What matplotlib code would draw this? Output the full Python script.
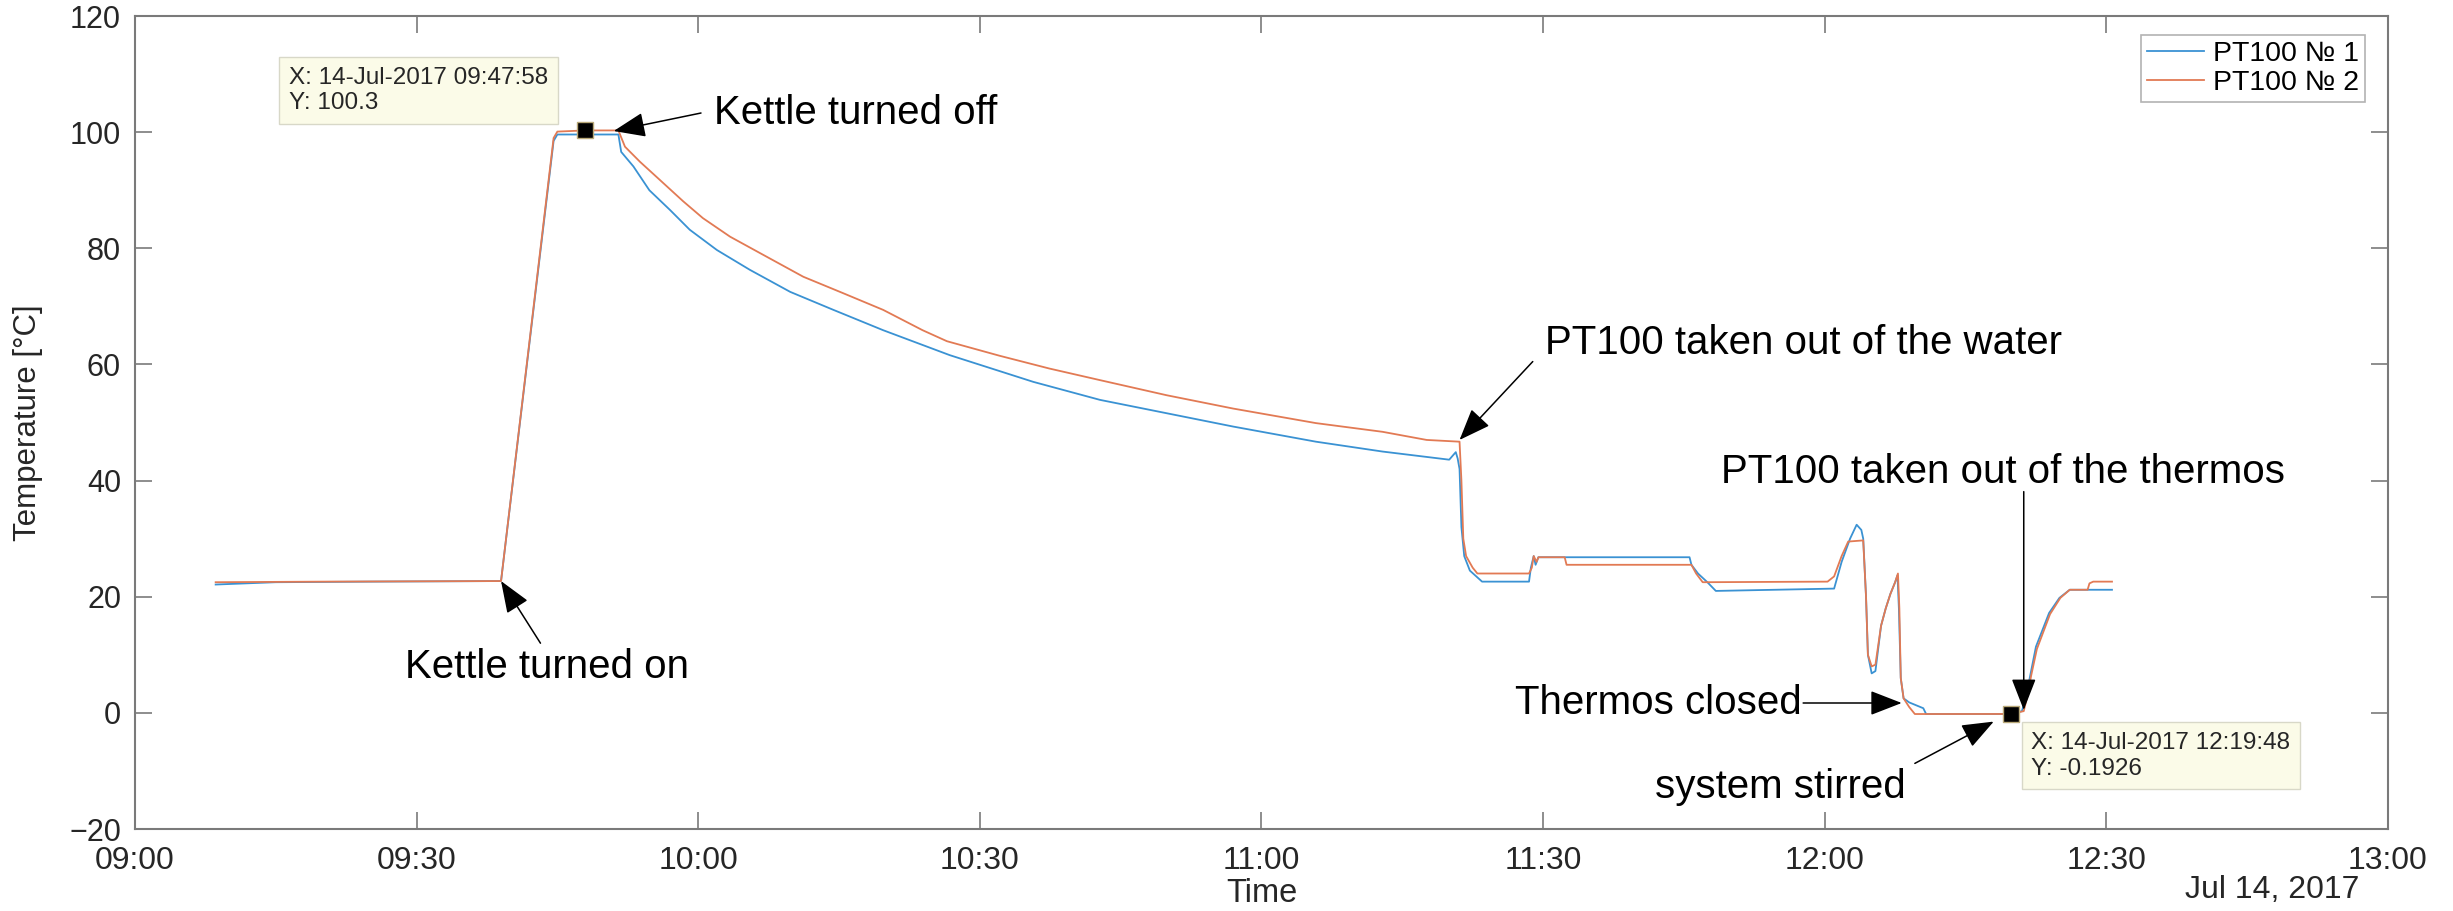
import matplotlib.pyplot as plt
import matplotlib.dates as mdates
import pandas as pd

plt.rcParams['font.family'] = ['Liberation Sans', 'DejaVu Sans']

# -----------------------------
# DATA
# -----------------------------
day = "2017-07-14 "

t1 = ["09:08:36", "09:15:00", "09:25:00", "09:39:00", "09:44:36", "09:45:00", "09:51:30",
      "09:51:48", "09:53:06", "09:54:48", "09:57:00", "09:59:06", "10:02:00", "10:05:30",
      "10:09:48", "10:14:24", "10:19:42", "10:26:48", "10:35:42", "10:42:48", "10:49:54",
      "10:57:00", "11:05:48", "11:12:54", "11:20:00", "11:20:42", "11:20:54", "11:21:06",
      "11:21:18", "11:21:36", "11:22:12", "11:23:30", "11:28:30", "11:28:42", "11:29:00",
      "11:29:12", "11:29:30", "11:45:36", "11:45:48", "11:46:30", "11:47:30", "11:48:24",
      "12:01:00", "12:01:48", "12:02:42", "12:03:24", "12:03:54", "12:04:06", "12:04:24",
      "12:04:36", "12:05:00", "12:05:24", "12:06:00", "12:06:30", "12:07:00", "12:07:30",
      "12:07:45", "12:07:54", "12:08:06", "12:08:24", "12:09:00", "12:10:30", "12:10:48",
      "12:19:48", "12:21:00", "12:21:30", "12:21:48", "12:22:30", "12:23:12", "12:23:54",
      "12:25:00", "12:26:06", "12:30:36"]
v1 = [22.1, 22.5, 22.6, 22.7, 98.5, 99.6, 99.6,
      96.6, 94.1, 90.0, 86.6, 83.2, 79.7, 76.3,
      72.5, 69.4, 65.9, 61.6, 57.0, 53.9, 51.6,
      49.3, 46.7, 45.0, 43.6, 44.9, 43.8, 42.0,
      32.0, 27.0, 24.5, 22.6, 22.6, 25.0, 27.0,
      25.5, 26.8, 26.8, 25.5, 24.0, 22.5, 21.0,
      21.4, 26.0, 30.0, 32.4, 31.5, 30.0, 20.0,
      10.0, 6.8, 7.2, 15.0, 18.0, 20.5, 22.5,
      23.7, 18.0, 6.0, 2.5, 1.8, 0.8, -0.2,
      -0.2, 0.3, 3.0, 5.7, 11.4, 14.3, 17.2,
      19.8, 21.2, 21.2]

t2 = ["09:08:36", "09:20:00", "09:39:00", "09:44:36", "09:45:00", "09:47:58", "09:51:30",
      "09:52:12", "09:53:48", "09:55:54", "09:58:24", "10:00:30", "10:03:24", "10:06:54",
      "10:11:12", "10:15:24", "10:19:42", "10:23:54", "10:26:30", "10:32:06", "10:37:24",
      "10:42:48", "10:49:54", "10:57:00", "11:05:48", "11:12:54", "11:17:36", "11:21:06",
      "11:21:18", "11:21:30", "11:21:48", "11:22:30", "11:23:00", "11:28:30", "11:28:48",
      "11:29:00", "11:29:18", "11:29:30", "11:32:18", "11:32:30", "11:45:48", "11:46:18",
      "11:47:00", "12:00:18", "12:01:00", "12:01:48", "12:02:30", "12:04:06", "12:04:24",
      "12:04:36", "12:05:00", "12:05:24", "12:06:00", "12:06:30", "12:07:00", "12:07:30",
      "12:07:48", "12:07:57", "12:08:06", "12:08:24", "12:09:00", "12:09:36", "12:19:48",
      "12:21:12", "12:21:36", "12:22:00", "12:22:36", "12:23:18", "12:24:00", "12:25:06",
      "12:26:06", "12:28:00", "12:28:12", "12:28:36", "12:30:36"]
v2 = [22.5, 22.6, 22.7, 99.0, 100.1, 100.3, 100.3,
      97.5, 94.9, 91.8, 88.1, 85.2, 82.0, 78.9,
      75.1, 72.3, 69.4, 65.9, 64.0, 61.5, 59.3,
      57.3, 54.7, 52.4, 49.9, 48.4, 47.0, 46.7,
      40.0, 30.0, 27.0, 25.0, 24.0, 24.0, 25.0,
      27.0, 26.0, 26.8, 26.8, 25.5, 25.5, 24.0,
      22.5, 22.6, 23.5, 27.0, 29.5, 29.7, 20.0,
      10.0, 8.0, 8.3, 15.0, 18.0, 20.5, 22.5,
      24.0, 18.0, 6.0, 2.5, 1.0, -0.2, -0.19,
      0.3, 3.0, 6.5, 11.0, 14.0, 17.0, 19.8,
      21.2, 21.2, 22.3, 22.6, 22.6]

series_names = ["PT100 № 1", "PT100 № 2"]
tip_times = ["09:47:58", "12:19:48"]
tip_values = [100.3, -0.1926]
tick_times = ["09:00", "09:30", "10:00", "10:30", "11:00", "11:30", "12:00", "12:30", "13:00"]


def at(s):
    return pd.Timestamp(day + s)


x1 = pd.to_datetime([day + s for s in t1])
x2 = pd.to_datetime([day + s for s in t2])

# -----------------------------
# FIGURE
# -----------------------------
fig = plt.figure(figsize=(24.53, 9.11), dpi=100)
ax = fig.add_axes([0.0550, 0.0900, 0.9185, 0.8924])

ax.plot(x1, v1, color="#3A92D3", lw=1.3, label=series_names[0])
ax.plot(x2, v2, color="#E27A54", lw=1.3, label=series_names[1])

# data tip markers
ax.plot([at(s) for s in tip_times], tip_values, "s", color="black",
        mec="#B8A878", mew=1, ms=12, zorder=5)

ax.set_xlim(at("09:00"), at("13:00"))
ax.set_ylim(-20, 120)
ax.set_xticks([at(s) for s in tick_times])
ax.xaxis.set_major_formatter(mdates.DateFormatter("%H:%M"))
ax.set_yticks(range(-20, 121, 20))

axis_col = "#7A7A7A"
for sp in ax.spines.values():
    sp.set_color(axis_col)
    sp.set_linewidth(1.5)
ax.tick_params(direction="in", length=12, width=1.2, color=axis_col,
               labelcolor="#262626", top=True, right=True)
ax.tick_params(axis="x", pad=12, labelsize=23)
ax.tick_params(axis="y", pad=10, labelsize=22)

ax.set_xlabel("Time", fontsize=23.5, color="#262626")
ax.xaxis.set_label_coords(0.5, -0.060)
ax.set_ylabel("Temperature [°C]", fontsize=22.5, color="#262626")
ax.yaxis.set_label_coords(-0.041, 0.5)
ax.text(0.9871, -0.075, "Jul 14, 2017", transform=ax.transAxes, ha="right",
        va="center", fontsize=23, color="#262626")

leg = ax.legend(loc="upper right", bbox_to_anchor=(0.9898, 0.9766), fontsize=20.5,
                fancybox=False, edgecolor="#A0A0A0", handlelength=2.0,
                handletextpad=0.3, borderpad=0.22, labelspacing=0.1,
                borderaxespad=0)
leg.get_frame().set_linewidth(1.2)

# -----------------------------
# ANNOTATIONS
# -----------------------------
afs = 29


def arrow(tail, tip):
    ax.annotate("", xy=tip, xytext=tail,
                arrowprops=dict(arrowstyle="-|>,head_length=0.9,head_width=0.35",
                                color="black", lw=1.1, shrinkA=0, shrinkB=0,
                                mutation_scale=22), zorder=6)


ax.text(at("09:43:54"), 7.9, "Kettle turned on", fontsize=afs, ha="center", va="center")
arrow((at("09:43:12"), 12.0), (at("09:39:00"), 22.7))

ax.text(at("10:01:42"), 103.3, "Kettle turned off", fontsize=afs, ha="left", va="center")
arrow((at("10:00:18"), 103.3), (at("09:51:00"), 100.2))

ax.text(at("11:30:12"), 63.7, "PT100 taken out of the water", fontsize=afs, ha="left", va="center")
arrow((at("11:28:54"), 60.5), (at("11:21:06"), 47.0))

ax.text(at("11:49:00"), 41.5, "PT100 taken out of the thermos", fontsize=afs, ha="left", va="center")
arrow((at("12:21:12"), 38.1), (at("12:21:12"), 0.5))

ax.text(at("11:57:30"), 1.7, "Thermos closed", fontsize=afs, ha="right", va="center")
arrow((at("11:57:42"), 1.7), (at("12:08:12"), 1.7))

ax.text(at("11:55:18"), -12.7, "system stirred", fontsize=afs, ha="center", va="center")
arrow((at("12:09:36"), -8.7), (at("12:18:00"), -1.5))

# data tips
tip_box = dict(boxstyle="square,pad=0.4", fc="#FBFBE8", ec="#D8D8C8", lw=1)
ax.text(at("09:16:24"), 107.2, "X: 14-Jul-2017 09:47:58\nY: 100.3", fontsize=17.5,
        ha="left", va="center", color="#262626", bbox=tip_box, zorder=7)
ax.text(at("12:22:00"), -7.4, "X: 14-Jul-2017 12:19:48\nY: -0.1926", fontsize=17.5,
        ha="left", va="center", color="#262626", bbox=tip_box, zorder=7)

fig.savefig("out.png", dpi=100)
